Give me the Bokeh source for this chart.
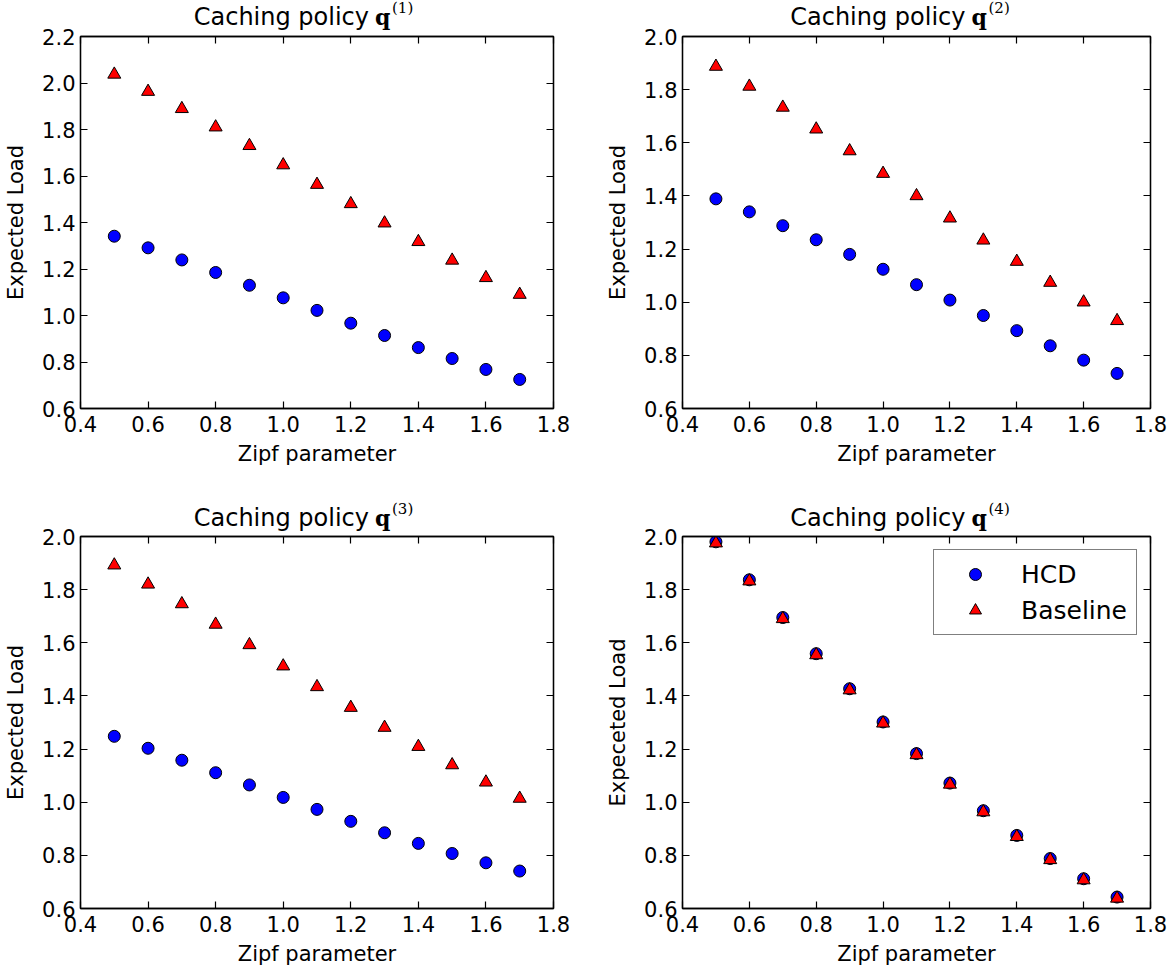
from bokeh.plotting import figure
from bokeh.models import (Range1d, LinearAxis, SingleIntervalTicker, PrintfTickFormatter,
                          CustomJSTickFormatter, Legend, LegendItem, ColumnDataSource)
from bokeh.core.properties import value
from bokeh.layouts import column, row
from bokeh.embed import file_html
from bokeh.resources import INLINE

# ---------------- data ----------------
zipf = [0.5, 0.6, 0.7, 0.8, 0.9, 1.0, 1.1, 1.2, 1.3, 1.4, 1.5, 1.6, 1.7]

hcd1 = [1.341, 1.291, 1.239, 1.185, 1.130, 1.076, 1.022, 0.967, 0.914, 0.862, 0.815, 0.768, 0.725]
base1 = [2.037, 1.963, 1.889, 1.810, 1.730, 1.647, 1.563, 1.480, 1.397, 1.317, 1.237, 1.162, 1.090]

hcd2 = [1.389, 1.340, 1.288, 1.235, 1.180, 1.124, 1.066, 1.008, 0.950, 0.893, 0.836, 0.782, 0.732]
base2 = [1.887, 1.812, 1.733, 1.651, 1.569, 1.484, 1.400, 1.316, 1.233, 1.153, 1.074, 1.000, 0.930]

hcd3 = [1.248, 1.203, 1.158, 1.111, 1.065, 1.018, 0.973, 0.928, 0.885, 0.845, 0.807, 0.772, 0.741]
base3 = [1.892, 1.820, 1.746, 1.669, 1.592, 1.512, 1.434, 1.356, 1.281, 1.209, 1.140, 1.075, 1.014]

hcd4 = [1.980, 1.837, 1.695, 1.559, 1.427, 1.302, 1.183, 1.072, 0.968, 0.875, 0.788, 0.712, 0.643]
base4 = [1.975, 1.832, 1.690, 1.554, 1.422, 1.297, 1.178, 1.067, 0.963, 0.870, 0.783, 0.707, 0.638]

titles_sup = ["(1)", "(2)", "(3)", "(4)"]
ylabels = ["Expected Load", "Expected Load", "Expected Load", "Expeceted Load"]
ymaxes = [2.2, 2.0, 2.0, 2.0]
series_names = ["HCD", "Baseline"]
x_label = "Zipf parameter"
title_text = "Caching policy"

FONT = "DejaVu Sans"
TICK_FS = "21px"


def style_axis(ax, labels=True):
    ax.ticker = SingleIntervalTicker(interval=0.2, num_minor_ticks=0)
    ax.major_tick_in = 7
    ax.major_tick_out = 0
    ax.minor_tick_in = 0
    ax.minor_tick_out = 0
    ax.axis_line_color = "black"
    ax.axis_line_width = 1.3
    ax.major_tick_line_color = "black"
    ax.major_tick_line_width = 1.2
    if labels:
        ax.formatter = PrintfTickFormatter(format="%.1f")
        ax.major_label_text_font = FONT
        ax.major_label_text_font_size = TICK_FS
        ax.major_label_text_color = "black"
        ax.axis_label_text_font = FONT
        ax.axis_label_text_font_size = TICK_FS
        ax.axis_label_text_font_style = "normal"
        ax.axis_label_text_color = "black"
    else:
        ax.formatter = CustomJSTickFormatter(code="return ''")
        ax.major_label_text_font_size = "0px"
        ax.major_label_standoff = 0


def make_title(w, h, lb, rb, base_y, sup):
    # a thin strip above each plot; y range is in pixels from the strip's bottom
    t = figure(width=w, height=h, x_range=Range1d(0.4, 1.8), y_range=Range1d(0, h),
               output_backend="svg", toolbar_location=None,
               x_axis_location=None, y_axis_location=None,
               min_border_left=lb, min_border_right=rb, min_border_top=0, min_border_bottom=0,
               background_fill_color="white", border_fill_color="white")
    t.grid.visible = False
    t.outline_line_color = None
    t.text(x=[1.1], y=[base_y], text=[title_text], x_offset=52,
           text_align="right", text_baseline="alphabetic",
           text_font=value(FONT), text_font_size="24px", text_color="black")
    t.text(x=[1.1], y=[base_y], text=["q"], x_offset=58,
           text_align="left", text_baseline="alphabetic",
           text_font=value("DejaVu Serif"), text_font_style="bold",
           text_font_size="22px", text_color="black")
    t.text(x=[1.1], y=[base_y + 9], text=[sup], x_offset=75,
           text_align="left", text_baseline="alphabetic",
           text_font=value("DejaVu Serif"), text_font_size="15px", text_color="black")
    return t


def make_fig(w, h, lb, rb, tb, bb, ymax, ylabel, hcd, base, legend=False):
    p = figure(width=w, height=h, x_range=Range1d(0.4, 1.8), y_range=Range1d(0.6, ymax),
               output_backend="svg", toolbar_location=None,
               min_border_left=lb, min_border_right=rb, min_border_top=tb, min_border_bottom=bb,
               margin=(-12, 0, 0, 0),
               background_fill_color="white", border_fill_color="white", border_fill_alpha=0)
    p.grid.visible = False
    p.outline_line_color = "black"
    p.outline_line_width = 1.3

    style_axis(p.xaxis[0])
    style_axis(p.yaxis[0])
    p.xaxis[0].axis_label = x_label
    p.yaxis[0].axis_label = ylabel
    p.xaxis[0].major_label_standoff = 7
    p.xaxis[0].axis_label_standoff = 7
    p.yaxis[0].major_label_standoff = 5
    p.yaxis[0].axis_label_standoff = 11

    top = LinearAxis()
    style_axis(top, labels=False)
    p.add_layout(top, "above")
    right = LinearAxis()
    style_axis(right, labels=False)
    p.add_layout(right, "right")

    src = ColumnDataSource(dict(x=zipf, hcd=hcd, base=base))
    r1 = p.scatter("x", "hcd", source=src, marker="circle", size=12,
                   fill_color="#0000ff", line_color="black", line_width=1)
    r2 = p.scatter("x", "base", source=src, marker="triangle", size=13,
                   fill_color="#ff0000", line_color="black", line_width=1)

    if legend:
        lg = Legend(items=[LegendItem(label=series_names[0], renderers=[r1]),
                           LegendItem(label=series_names[1], renderers=[r2])],
                    location="top_right")
        lg.label_text_font = FONT
        lg.label_text_font_size = "25px"
        lg.label_text_color = "black"
        lg.border_line_color = "black"
        lg.border_line_width = 1.5
        lg.background_fill_color = "white"
        lg.background_fill_alpha = 1.0
        lg.margin = 13
        lg.padding = 9
        lg.spacing = 6
        lg.glyph_width = 64
        lg.glyph_height = 30
        lg.label_height = 30
        lg.label_standoff = 14
        p.add_layout(lg, "center")
    return p


# layout: title strips above each plot (plots overlap the strips' lower edge by 12 px)
t1 = make_title(603, 34, 80, 50, 18, titles_sup[0])
t2 = make_title(567, 34, 73, 20, 18, titles_sup[1])
p1 = make_fig(603, 478, 80, 50, 14, 92, ymaxes[0], ylabels[0], hcd1, base1)
p2 = make_fig(567, 478, 73, 20, 14, 92, ymaxes[1], ylabels[1], hcd2, base2)
t3 = make_title(603, 34, 80, 50, 17, titles_sup[2])
t4 = make_title(567, 34, 73, 20, 17, titles_sup[3])
p3 = make_fig(603, 446, 80, 50, 14, 60, ymaxes[2], ylabels[2], hcd3, base3)
p4 = make_fig(567, 446, 73, 20, 14, 60, ymaxes[3], ylabels[3], hcd4, base4, legend=True)

layout = column(row(t1, t2), row(p1, p2), row(t3, t4), row(p3, p4))
open("out.html", "w").write(file_html(layout, INLINE))
